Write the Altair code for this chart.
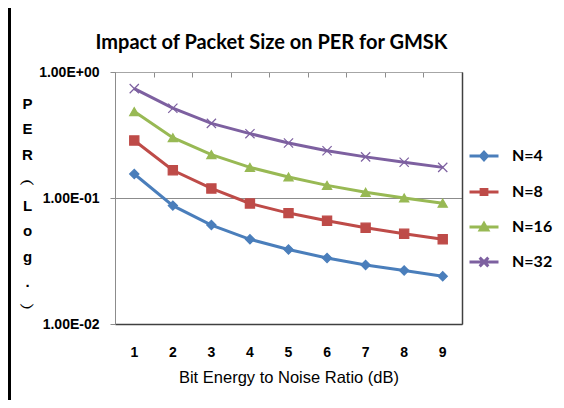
import altair as alt
import pandas as pd

# ---- data ----
ebn0 = [1, 2, 3, 4, 5, 6, 7, 8, 9]
series_names = ["N=4", "N=8", "N=16", "N=32"]
per_n4 = [0.155, 0.087, 0.061, 0.047, 0.039, 0.0334, 0.0294, 0.0266, 0.0239]
per_n8 = [0.286, 0.166, 0.119, 0.0905, 0.0759, 0.066, 0.058, 0.052, 0.047]
per_n16 = [0.485, 0.301, 0.221, 0.175, 0.147, 0.126, 0.111, 0.100, 0.091]
per_n32 = [0.738, 0.516, 0.391, 0.324, 0.273, 0.237, 0.212, 0.192, 0.175]
y_ticks = [1, 0.1, 0.01]
y_tick_labels = ["1.00E+00", "1.00E-01", "1.00E-02"]
y_title_lines = ["P", "E", "R", "\ufe35", "L", "o", "g", ".", "\ufe36"]
title_text = "Impact of Packet Size on PER for GMSK"
x_title = "Bit Energy to Noise Ratio (dB)"

# ---- styles ----
series_colors = ["#4A7EBB", "#BE4B48", "#98B954", "#7D60A0"]
point_shapes = ["diamond", "square", "triangle-up", "M-1,-1L1,1M-1,1L1,-1"]
legend_line = "M-1,0H1"
legend_markers = [
    "M0,-0.26L0.24,0L0,0.26L-0.24,0Z",
    "M-0.2,-0.18H0.2V0.18H-0.2Z",
    "M0,-0.24L0.26,0.2H-0.26Z",
    "M-0.3,-0.3L0.3,0.3M-0.3,0.3L0.3,-0.3",
]
legend_shapes = [legend_line + m for m in legend_markers]
FONT = "Lato, 'Noto Sans CJK SC', sans-serif"

rows = []
for name, vals in zip(series_names, [per_n4, per_n8, per_n16, per_n32]):
    for x, v in zip(ebn0, vals):
        rows.append({"ebn0": x, "per": v, "series": name})
df = pd.DataFrame(rows)

label_expr = " : ".join(
    f"datum.value == {v} ? '{l}'" for v, l in zip(y_ticks, y_tick_labels)
) + " : ''"

x_scale = alt.Scale(type="band", paddingInner=0, paddingOuter=0)
y_scale = alt.Scale(type="log", domain=[0.01, 1])
color_scale = alt.Scale(domain=series_names, range=series_colors)

base = alt.Chart(df)

lines = base.mark_line(strokeWidth=3).encode(
    x=alt.X("ebn0:O", scale=x_scale, sort=ebn0, axis=alt.Axis(
        orient="bottom", title=x_title, labelAngle=0, ticks=False, tickSize=0,
        labelPadding=21, labelFontSize=14, labelFontWeight="bold",
        titleFontSize=16.5, titleFontWeight="normal", titlePadding=10,
        domainColor="#404040", domainWidth=1.5)),
    y=alt.Y("per:Q", scale=y_scale, axis=alt.Axis(
        orient="left", values=y_ticks, labelExpr=label_expr, grid=True,
        gridColor="#8c8c8c", domainColor="#8c8c8c", tickColor="#8c8c8c",
        tickSize=5, labelPadding=11, labelFontSize=14, labelFontWeight="bold",
        title=y_title_lines, titleAngle=0, titleX=-88, titleY=31,
        titleAlign="center", titleBaseline="middle", titleLineHeight=25.5,
        titleFontSize=15, titleFontWeight="bold")),
    color=alt.Color("series:N", scale=color_scale, legend=None),
)

points = base.mark_point(filled=True, size=85, strokeWidth=1.2, opacity=1).encode(
    x=alt.X("ebn0:O", scale=x_scale, sort=ebn0, axis=alt.Axis(
        orient="bottom", offset=-252, labels=False, title=None,
        tickBand="extent", tickSize=5, tickColor="#8c8c8c",
        domainColor="#a6a6a6", grid=False)),
    y=alt.Y("per:Q", scale=y_scale, axis=alt.Axis(
        orient="right", labels=False, ticks=False, grid=False, title=None,
        domainColor="#404040", domainWidth=1.5)),
    color=alt.Color("series:N", scale=color_scale, legend=None),
    stroke=alt.Stroke("series:N", scale=color_scale, legend=None),
    shape=alt.Shape("series:N", scale=alt.Scale(domain=series_names, range=point_shapes), legend=None),
)

leg = alt.Legend(
    title=None, orient="none", legendX=353, legendY=68, padding=0,
    symbolSize=841, symbolStrokeWidth=3, labelFont=FONT, labelFontSize=16,
    labelFontWeight="bold", labelColor="black", labelOffset=12, rowPadding=10,
)

legend_layer = base.transform_filter("false").mark_point(filled=True, opacity=1).encode(
    x=alt.X("ebn0:O", scale=x_scale, axis=None),
    y=alt.Y("per:Q", scale=y_scale, axis=None),
    color=alt.Color("series:N", scale=color_scale, legend=leg),
    stroke=alt.Stroke("series:N", scale=color_scale, legend=leg),
    shape=alt.Shape("series:N", scale=alt.Scale(domain=series_names, range=legend_shapes), legend=leg),
)

frame = alt.Chart(alt.Data(values=[{"a": 1}])).mark_rule(color="black", strokeWidth=3).encode(
    x=alt.value(-105.5), y=alt.value(-64), y2=alt.value(336)
)

chart = alt.layer(frame, lines, points, legend_layer).resolve_scale(
    color="independent", shape="independent", stroke="independent"
).resolve_axis(x="independent", y="independent").properties(
    width=347, height=252,
    autosize=alt.AutoSizeParams(type="none"),
    padding={"left": 107, "top": 64, "right": 94, "bottom": 76},
    title=alt.TitleParams(title_text, font=FONT, fontSize=20, fontWeight="bold",
                          color="black", anchor="middle", dx=-17, offset=-62,
                          baseline="alphabetic"),
).configure_view(stroke="#a6a6a6", strokeWidth=1).configure_axis(
    labelFont=FONT, titleFont=FONT, labelColor="black", titleColor="black"
).configure(background="white")

chart.save("out.html", embed_options={"renderer": "svg", "actions": False})
